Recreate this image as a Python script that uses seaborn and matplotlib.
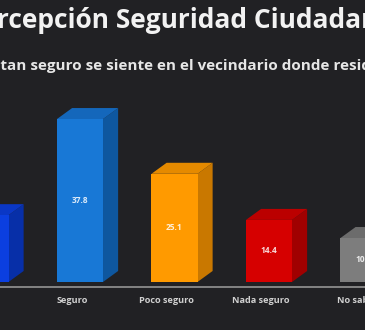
import matplotlib
matplotlib.use("Agg")
import matplotlib.pyplot as plt
from matplotlib.patches import Polygon
from matplotlib.transforms import ScaledTranslation
import seaborn as sns

# Survey data: perception of safety in the neighbourhood (%)
categories = ["Muy seguro", "Seguro", "Poco seguro", "Nada seguro", "No sabe"]
values = [15.5, 37.8, 25.1, 14.4, 10.2]
value_labels = ["15.5", "37.8", "25.1", "14.4", "10.2"]

title = "Percepción Seguridad Ciudadana"
subtitle = "¿Qué tan seguro se siente en el vecindario donde reside?"

front_colors = ["#0b3fe0", "#1878d6", "#ff9a00", "#d60000", "#7d7d7d"]
side_colors = ["#072fa8", "#0e579f", "#c97800", "#a00000", "#5e5e5e"]
top_colors = ["#0a37c6", "#1467bb", "#e58a00", "#bb0000", "#6c6c6c"]

BG = "#212124"

sns.set_theme(style="dark")
plt.rcParams["font.family"] = ["Open Sans", "DejaVu Sans"]

fig = plt.figure(figsize=(3.65, 3.3), dpi=100, facecolor=BG)
ax = fig.add_axes([0.0, 39.4 / 330, 1.0, 202.6 / 330])
ax.set_facecolor(BG)

sns.barplot(x=categories, y=values, hue=categories, palette=front_colors,
            saturation=1, width=0.487, legend=False, ax=ax, zorder=3,
            linewidth=0, edgecolor="none")

ax.set_xlim(0.1534, 4.016)
ax.set_ylim(-2, 45)

# depth of the extruded faces, in data units
dx, dy = 0.16, 2.55
for i, bar in enumerate(ax.patches):
    x0, w, h = bar.get_x(), bar.get_width(), bar.get_height()
    x1 = x0 + w
    side = Polygon([(x1, 0), (x1 + dx, dy), (x1 + dx, h + dy), (x1, h)],
                   closed=True, facecolor=side_colors[i], edgecolor="none", zorder=2)
    top = Polygon([(x0, h), (x0 + dx, h + dy), (x1 + dx, h + dy), (x1, h)],
                  closed=True, facecolor=top_colors[i], edgecolor="none", zorder=2)
    ax.add_patch(side)
    ax.add_patch(top)
    ax.text(x0 + w / 2, h / 2, value_labels[i], ha="center", va="center",
            fontsize=6, fontweight="bold", color="white", alpha=0.85, zorder=4)

ax.axhline(-1.16, color="#8c8c8c", lw=1.3, zorder=1)

for s in ax.spines.values():
    s.set_visible(False)
ax.set_yticks([])
ax.set_xlabel("")
ax.set_ylabel("")
ax.tick_params(axis="x", length=0, pad=4, labelsize=6.6, labelcolor="#d0d0d0")
shift = ScaledTranslation(-0.08, 0, fig.dpi_scale_trans)
for lab in ax.get_xticklabels():
    lab.set_fontweight("bold")
    lab.set_transform(lab.get_transform() + shift)

fig.text(0.493, 1 - 21 / 330, title, ha="center", va="center",
         fontsize=19, fontweight="bold", color="#f2f2f2")
fig.text(0.474, 1 - 66 / 330, subtitle, ha="center", va="center",
         fontsize=11, fontweight="bold", color="#e6e6e6")

fig.savefig("out.png", dpi=100, facecolor=BG)
